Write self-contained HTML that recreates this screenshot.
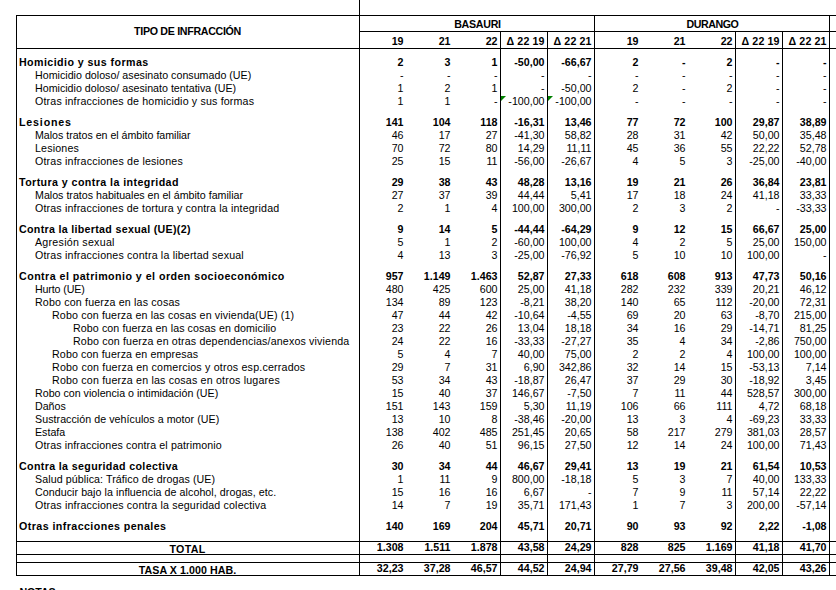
<!DOCTYPE html>
<html><head><meta charset="utf-8"><style>
html,body{margin:0;padding:0;background:#fff;}
body{width:836px;height:590px;position:relative;overflow:hidden;font-family:"Liberation Sans", Arial, sans-serif;font-size:10.67px;color:#000;}
p{position:absolute;margin:0;white-space:pre;line-height:13px;height:13px;}
i{position:absolute;display:block;}
s{position:absolute;display:block;width:0;height:0;}
</style></head><body>
<p style="top:56px;left:19px;font-weight:bold;letter-spacing:0.429px;">Homicidio y sus formas</p>
<p style="top:56px;right:432.5px;font-weight:bold;">2</p>
<p style="top:56px;right:385.5px;font-weight:bold;">3</p>
<p style="top:56px;right:338.5px;font-weight:bold;">1</p>
<p style="top:56px;right:291.5px;font-weight:bold;">-50,00</p>
<p style="top:56px;right:244.5px;font-weight:bold;">-66,67</p>
<p style="top:56px;right:197.5px;font-weight:bold;">2</p>
<p style="top:56px;right:150.5px;font-weight:bold;">-</p>
<p style="top:56px;right:103.5px;font-weight:bold;">2</p>
<p style="top:56px;right:56.5px;font-weight:bold;">-</p>
<p style="top:56px;right:9.5px;font-weight:bold;">-</p>
<p style="top:69px;left:35px;letter-spacing:0.016px;">Homicidio doloso/ asesinato consumado (UE)</p>
<p style="top:69px;right:432.5px;">-</p>
<p style="top:69px;right:385.5px;">-</p>
<p style="top:69px;right:338.5px;">-</p>
<p style="top:69px;right:291.5px;">-</p>
<p style="top:69px;right:244.5px;">-</p>
<p style="top:69px;right:197.5px;">-</p>
<p style="top:69px;right:150.5px;">-</p>
<p style="top:69px;right:103.5px;">-</p>
<p style="top:69px;right:56.5px;">-</p>
<p style="top:69px;right:9.5px;">-</p>
<p style="top:82px;left:35px;letter-spacing:0.009px;">Homicidio doloso/ asesinato tentativa (UE)</p>
<p style="top:82px;right:432.5px;">1</p>
<p style="top:82px;right:385.5px;">2</p>
<p style="top:82px;right:338.5px;">1</p>
<p style="top:82px;right:291.5px;">-</p>
<p style="top:82px;right:244.5px;">-50,00</p>
<p style="top:82px;right:197.5px;">2</p>
<p style="top:82px;right:150.5px;">-</p>
<p style="top:82px;right:103.5px;">2</p>
<p style="top:82px;right:56.5px;">-</p>
<p style="top:82px;right:9.5px;">-</p>
<p style="top:95px;left:35px;letter-spacing:0.163px;">Otras infracciones de homicidio y sus formas</p>
<p style="top:95px;right:432.5px;">1</p>
<p style="top:95px;right:385.5px;">1</p>
<p style="top:95px;right:338.5px;">-</p>
<p style="top:95px;right:291.5px;">-100,00</p>
<p style="top:95px;right:244.5px;">-100,00</p>
<p style="top:95px;right:197.5px;">-</p>
<p style="top:95px;right:150.5px;">-</p>
<p style="top:95px;right:103.5px;">-</p>
<p style="top:95px;right:56.5px;">-</p>
<p style="top:95px;right:9.5px;">-</p>
<p style="top:116px;left:19px;font-weight:bold;letter-spacing:0.83px;">Lesiones</p>
<p style="top:116px;right:432.5px;font-weight:bold;">141</p>
<p style="top:116px;right:385.5px;font-weight:bold;">104</p>
<p style="top:116px;right:338.5px;font-weight:bold;">118</p>
<p style="top:116px;right:291.5px;font-weight:bold;">-16,31</p>
<p style="top:116px;right:244.5px;font-weight:bold;">13,46</p>
<p style="top:116px;right:197.5px;font-weight:bold;">77</p>
<p style="top:116px;right:150.5px;font-weight:bold;">72</p>
<p style="top:116px;right:103.5px;font-weight:bold;">100</p>
<p style="top:116px;right:56.5px;font-weight:bold;">29,87</p>
<p style="top:116px;right:9.5px;font-weight:bold;">38,89</p>
<p style="top:129px;left:35px;letter-spacing:-0.024px;">Malos tratos en el ámbito familiar</p>
<p style="top:129px;right:432.5px;">46</p>
<p style="top:129px;right:385.5px;">17</p>
<p style="top:129px;right:338.5px;">27</p>
<p style="top:129px;right:291.5px;">-41,30</p>
<p style="top:129px;right:244.5px;">58,82</p>
<p style="top:129px;right:197.5px;">28</p>
<p style="top:129px;right:150.5px;">31</p>
<p style="top:129px;right:103.5px;">42</p>
<p style="top:129px;right:56.5px;">50,00</p>
<p style="top:129px;right:9.5px;">35,48</p>
<p style="top:142px;left:35px;letter-spacing:0.172px;">Lesiones</p>
<p style="top:142px;right:432.5px;">70</p>
<p style="top:142px;right:385.5px;">72</p>
<p style="top:142px;right:338.5px;">80</p>
<p style="top:142px;right:291.5px;">14,29</p>
<p style="top:142px;right:244.5px;">11,11</p>
<p style="top:142px;right:197.5px;">45</p>
<p style="top:142px;right:150.5px;">36</p>
<p style="top:142px;right:103.5px;">55</p>
<p style="top:142px;right:56.5px;">22,22</p>
<p style="top:142px;right:9.5px;">52,78</p>
<p style="top:155px;left:35px;letter-spacing:0.172px;">Otras infracciones de lesiones</p>
<p style="top:155px;right:432.5px;">25</p>
<p style="top:155px;right:385.5px;">15</p>
<p style="top:155px;right:338.5px;">11</p>
<p style="top:155px;right:291.5px;">-56,00</p>
<p style="top:155px;right:244.5px;">-26,67</p>
<p style="top:155px;right:197.5px;">4</p>
<p style="top:155px;right:150.5px;">5</p>
<p style="top:155px;right:103.5px;">3</p>
<p style="top:155px;right:56.5px;">-25,00</p>
<p style="top:155px;right:9.5px;">-40,00</p>
<p style="top:176px;left:19px;font-weight:bold;letter-spacing:0.421px;">Tortura y contra la integridad</p>
<p style="top:176px;right:432.5px;font-weight:bold;">29</p>
<p style="top:176px;right:385.5px;font-weight:bold;">38</p>
<p style="top:176px;right:338.5px;font-weight:bold;">43</p>
<p style="top:176px;right:291.5px;font-weight:bold;">48,28</p>
<p style="top:176px;right:244.5px;font-weight:bold;">13,16</p>
<p style="top:176px;right:197.5px;font-weight:bold;">19</p>
<p style="top:176px;right:150.5px;font-weight:bold;">21</p>
<p style="top:176px;right:103.5px;font-weight:bold;">26</p>
<p style="top:176px;right:56.5px;font-weight:bold;">36,84</p>
<p style="top:176px;right:9.5px;font-weight:bold;">23,81</p>
<p style="top:189px;left:35px;letter-spacing:0.003px;">Malos tratos habituales en el ámbito familiar</p>
<p style="top:189px;right:432.5px;">27</p>
<p style="top:189px;right:385.5px;">37</p>
<p style="top:189px;right:338.5px;">39</p>
<p style="top:189px;right:291.5px;">44,44</p>
<p style="top:189px;right:244.5px;">5,41</p>
<p style="top:189px;right:197.5px;">17</p>
<p style="top:189px;right:150.5px;">18</p>
<p style="top:189px;right:103.5px;">24</p>
<p style="top:189px;right:56.5px;">41,18</p>
<p style="top:189px;right:9.5px;">33,33</p>
<p style="top:202px;left:35px;letter-spacing:0.153px;">Otras infracciones de tortura y contra la integridad</p>
<p style="top:202px;right:432.5px;">2</p>
<p style="top:202px;right:385.5px;">1</p>
<p style="top:202px;right:338.5px;">4</p>
<p style="top:202px;right:291.5px;">100,00</p>
<p style="top:202px;right:244.5px;">300,00</p>
<p style="top:202px;right:197.5px;">2</p>
<p style="top:202px;right:150.5px;">3</p>
<p style="top:202px;right:103.5px;">2</p>
<p style="top:202px;right:56.5px;">-</p>
<p style="top:202px;right:9.5px;">-33,33</p>
<p style="top:223px;left:19px;font-weight:bold;letter-spacing:0.307px;">Contra la libertad sexual (UE)(2)</p>
<p style="top:223px;right:432.5px;font-weight:bold;">9</p>
<p style="top:223px;right:385.5px;font-weight:bold;">14</p>
<p style="top:223px;right:338.5px;font-weight:bold;">5</p>
<p style="top:223px;right:291.5px;font-weight:bold;">-44,44</p>
<p style="top:223px;right:244.5px;font-weight:bold;">-64,29</p>
<p style="top:223px;right:197.5px;font-weight:bold;">9</p>
<p style="top:223px;right:150.5px;font-weight:bold;">12</p>
<p style="top:223px;right:103.5px;font-weight:bold;">15</p>
<p style="top:223px;right:56.5px;font-weight:bold;">66,67</p>
<p style="top:223px;right:9.5px;font-weight:bold;">25,00</p>
<p style="top:236px;left:35px;letter-spacing:0.258px;">Agresión sexual</p>
<p style="top:236px;right:432.5px;">5</p>
<p style="top:236px;right:385.5px;">1</p>
<p style="top:236px;right:338.5px;">2</p>
<p style="top:236px;right:291.5px;">-60,00</p>
<p style="top:236px;right:244.5px;">100,00</p>
<p style="top:236px;right:197.5px;">4</p>
<p style="top:236px;right:150.5px;">2</p>
<p style="top:236px;right:103.5px;">5</p>
<p style="top:236px;right:56.5px;">25,00</p>
<p style="top:236px;right:9.5px;">150,00</p>
<p style="top:249px;left:35px;letter-spacing:0.171px;">Otras infracciones contra la libertad sexual</p>
<p style="top:249px;right:432.5px;">4</p>
<p style="top:249px;right:385.5px;">13</p>
<p style="top:249px;right:338.5px;">3</p>
<p style="top:249px;right:291.5px;">-25,00</p>
<p style="top:249px;right:244.5px;">-76,92</p>
<p style="top:249px;right:197.5px;">5</p>
<p style="top:249px;right:150.5px;">10</p>
<p style="top:249px;right:103.5px;">10</p>
<p style="top:249px;right:56.5px;">100,00</p>
<p style="top:249px;right:9.5px;">-</p>
<p style="top:270px;left:19px;font-weight:bold;letter-spacing:0.462px;">Contra el patrimonio y el orden socioeconómico</p>
<p style="top:270px;right:432.5px;font-weight:bold;">957</p>
<p style="top:270px;right:385.5px;font-weight:bold;">1.149</p>
<p style="top:270px;right:338.5px;font-weight:bold;">1.463</p>
<p style="top:270px;right:291.5px;font-weight:bold;">52,87</p>
<p style="top:270px;right:244.5px;font-weight:bold;">27,33</p>
<p style="top:270px;right:197.5px;font-weight:bold;">618</p>
<p style="top:270px;right:150.5px;font-weight:bold;">608</p>
<p style="top:270px;right:103.5px;font-weight:bold;">913</p>
<p style="top:270px;right:56.5px;font-weight:bold;">47,73</p>
<p style="top:270px;right:9.5px;font-weight:bold;">50,16</p>
<p style="top:283px;left:35px;letter-spacing:-0.132px;">Hurto (UE)</p>
<p style="top:283px;right:432.5px;">480</p>
<p style="top:283px;right:385.5px;">425</p>
<p style="top:283px;right:338.5px;">600</p>
<p style="top:283px;right:291.5px;">25,00</p>
<p style="top:283px;right:244.5px;">41,18</p>
<p style="top:283px;right:197.5px;">282</p>
<p style="top:283px;right:150.5px;">232</p>
<p style="top:283px;right:103.5px;">339</p>
<p style="top:283px;right:56.5px;">20,21</p>
<p style="top:283px;right:9.5px;">46,12</p>
<p style="top:296px;left:35px;letter-spacing:0.164px;">Robo con fuerza en las cosas</p>
<p style="top:296px;right:432.5px;">134</p>
<p style="top:296px;right:385.5px;">89</p>
<p style="top:296px;right:338.5px;">123</p>
<p style="top:296px;right:291.5px;">-8,21</p>
<p style="top:296px;right:244.5px;">38,20</p>
<p style="top:296px;right:197.5px;">140</p>
<p style="top:296px;right:150.5px;">65</p>
<p style="top:296px;right:103.5px;">112</p>
<p style="top:296px;right:56.5px;">-20,00</p>
<p style="top:296px;right:9.5px;">72,31</p>
<p style="top:309px;left:52px;letter-spacing:0.146px;">Robo con fuerza en las cosas en vivienda(UE) (1)</p>
<p style="top:309px;right:432.5px;">47</p>
<p style="top:309px;right:385.5px;">44</p>
<p style="top:309px;right:338.5px;">42</p>
<p style="top:309px;right:291.5px;">-10,64</p>
<p style="top:309px;right:244.5px;">-4,55</p>
<p style="top:309px;right:197.5px;">69</p>
<p style="top:309px;right:150.5px;">20</p>
<p style="top:309px;right:103.5px;">63</p>
<p style="top:309px;right:56.5px;">-8,70</p>
<p style="top:309px;right:9.5px;">215,00</p>
<p style="top:322px;left:73px;letter-spacing:0.09px;">Robo con fuerza en las cosas en domicilio</p>
<p style="top:322px;right:432.5px;">23</p>
<p style="top:322px;right:385.5px;">22</p>
<p style="top:322px;right:338.5px;">26</p>
<p style="top:322px;right:291.5px;">13,04</p>
<p style="top:322px;right:244.5px;">18,18</p>
<p style="top:322px;right:197.5px;">34</p>
<p style="top:322px;right:150.5px;">16</p>
<p style="top:322px;right:103.5px;">29</p>
<p style="top:322px;right:56.5px;">-14,71</p>
<p style="top:322px;right:9.5px;">81,25</p>
<p style="top:335px;left:73px;letter-spacing:0.151px;">Robo con fuerza en otras dependencias/anexos vivienda</p>
<p style="top:335px;right:432.5px;">24</p>
<p style="top:335px;right:385.5px;">22</p>
<p style="top:335px;right:338.5px;">16</p>
<p style="top:335px;right:291.5px;">-33,33</p>
<p style="top:335px;right:244.5px;">-27,27</p>
<p style="top:335px;right:197.5px;">35</p>
<p style="top:335px;right:150.5px;">4</p>
<p style="top:335px;right:103.5px;">34</p>
<p style="top:335px;right:56.5px;">-2,86</p>
<p style="top:335px;right:9.5px;">750,00</p>
<p style="top:348px;left:52px;letter-spacing:0.131px;">Robo con fuerza en empresas</p>
<p style="top:348px;right:432.5px;">5</p>
<p style="top:348px;right:385.5px;">4</p>
<p style="top:348px;right:338.5px;">7</p>
<p style="top:348px;right:291.5px;">40,00</p>
<p style="top:348px;right:244.5px;">75,00</p>
<p style="top:348px;right:197.5px;">2</p>
<p style="top:348px;right:150.5px;">2</p>
<p style="top:348px;right:103.5px;">4</p>
<p style="top:348px;right:56.5px;">100,00</p>
<p style="top:348px;right:9.5px;">100,00</p>
<p style="top:361px;left:52px;letter-spacing:0.191px;">Robo con fuerza en comercios y otros esp.cerrados</p>
<p style="top:361px;right:432.5px;">29</p>
<p style="top:361px;right:385.5px;">7</p>
<p style="top:361px;right:338.5px;">31</p>
<p style="top:361px;right:291.5px;">6,90</p>
<p style="top:361px;right:244.5px;">342,86</p>
<p style="top:361px;right:197.5px;">32</p>
<p style="top:361px;right:150.5px;">14</p>
<p style="top:361px;right:103.5px;">15</p>
<p style="top:361px;right:56.5px;">-53,13</p>
<p style="top:361px;right:9.5px;">7,14</p>
<p style="top:374px;left:52px;letter-spacing:0.181px;">Robo con fuerza en las cosas en otros lugares</p>
<p style="top:374px;right:432.5px;">53</p>
<p style="top:374px;right:385.5px;">34</p>
<p style="top:374px;right:338.5px;">43</p>
<p style="top:374px;right:291.5px;">-18,87</p>
<p style="top:374px;right:244.5px;">26,47</p>
<p style="top:374px;right:197.5px;">37</p>
<p style="top:374px;right:150.5px;">29</p>
<p style="top:374px;right:103.5px;">30</p>
<p style="top:374px;right:56.5px;">-18,92</p>
<p style="top:374px;right:9.5px;">3,45</p>
<p style="top:387px;left:35px;letter-spacing:0.005px;">Robo con violencia o intimidación (UE)</p>
<p style="top:387px;right:432.5px;">15</p>
<p style="top:387px;right:385.5px;">40</p>
<p style="top:387px;right:338.5px;">37</p>
<p style="top:387px;right:291.5px;">146,67</p>
<p style="top:387px;right:244.5px;">-7,50</p>
<p style="top:387px;right:197.5px;">7</p>
<p style="top:387px;right:150.5px;">11</p>
<p style="top:387px;right:103.5px;">44</p>
<p style="top:387px;right:56.5px;">528,57</p>
<p style="top:387px;right:9.5px;">300,00</p>
<p style="top:400px;left:35px;letter-spacing:0.0px;">Daños</p>
<p style="top:400px;right:432.5px;">151</p>
<p style="top:400px;right:385.5px;">143</p>
<p style="top:400px;right:338.5px;">159</p>
<p style="top:400px;right:291.5px;">5,30</p>
<p style="top:400px;right:244.5px;">11,19</p>
<p style="top:400px;right:197.5px;">106</p>
<p style="top:400px;right:150.5px;">66</p>
<p style="top:400px;right:103.5px;">111</p>
<p style="top:400px;right:56.5px;">4,72</p>
<p style="top:400px;right:9.5px;">68,18</p>
<p style="top:413px;left:35px;letter-spacing:0.051px;">Sustracción de vehículos a motor (UE)</p>
<p style="top:413px;right:432.5px;">13</p>
<p style="top:413px;right:385.5px;">10</p>
<p style="top:413px;right:338.5px;">8</p>
<p style="top:413px;right:291.5px;">-38,46</p>
<p style="top:413px;right:244.5px;">-20,00</p>
<p style="top:413px;right:197.5px;">13</p>
<p style="top:413px;right:150.5px;">3</p>
<p style="top:413px;right:103.5px;">4</p>
<p style="top:413px;right:56.5px;">-69,23</p>
<p style="top:413px;right:9.5px;">33,33</p>
<p style="top:426px;left:35px;letter-spacing:0.0px;">Estafa</p>
<p style="top:426px;right:432.5px;">138</p>
<p style="top:426px;right:385.5px;">402</p>
<p style="top:426px;right:338.5px;">485</p>
<p style="top:426px;right:291.5px;">251,45</p>
<p style="top:426px;right:244.5px;">20,65</p>
<p style="top:426px;right:197.5px;">58</p>
<p style="top:426px;right:150.5px;">217</p>
<p style="top:426px;right:103.5px;">279</p>
<p style="top:426px;right:56.5px;">381,03</p>
<p style="top:426px;right:9.5px;">28,57</p>
<p style="top:439px;left:35px;letter-spacing:0.111px;">Otras infracciones contra el patrimonio</p>
<p style="top:439px;right:432.5px;">26</p>
<p style="top:439px;right:385.5px;">40</p>
<p style="top:439px;right:338.5px;">51</p>
<p style="top:439px;right:291.5px;">96,15</p>
<p style="top:439px;right:244.5px;">27,50</p>
<p style="top:439px;right:197.5px;">12</p>
<p style="top:439px;right:150.5px;">14</p>
<p style="top:439px;right:103.5px;">24</p>
<p style="top:439px;right:56.5px;">100,00</p>
<p style="top:439px;right:9.5px;">71,43</p>
<p style="top:460px;left:19px;font-weight:bold;letter-spacing:0.357px;">Contra la seguridad colectiva</p>
<p style="top:460px;right:432.5px;font-weight:bold;">30</p>
<p style="top:460px;right:385.5px;font-weight:bold;">34</p>
<p style="top:460px;right:338.5px;font-weight:bold;">44</p>
<p style="top:460px;right:291.5px;font-weight:bold;">46,67</p>
<p style="top:460px;right:244.5px;font-weight:bold;">29,41</p>
<p style="top:460px;right:197.5px;font-weight:bold;">13</p>
<p style="top:460px;right:150.5px;font-weight:bold;">19</p>
<p style="top:460px;right:103.5px;font-weight:bold;">21</p>
<p style="top:460px;right:56.5px;font-weight:bold;">61,54</p>
<p style="top:460px;right:9.5px;font-weight:bold;">10,53</p>
<p style="top:473px;left:35px;letter-spacing:0.083px;">Salud pública: Tráfico de drogas (UE)</p>
<p style="top:473px;right:432.5px;">1</p>
<p style="top:473px;right:385.5px;">11</p>
<p style="top:473px;right:338.5px;">9</p>
<p style="top:473px;right:291.5px;">800,00</p>
<p style="top:473px;right:244.5px;">-18,18</p>
<p style="top:473px;right:197.5px;">5</p>
<p style="top:473px;right:150.5px;">3</p>
<p style="top:473px;right:103.5px;">7</p>
<p style="top:473px;right:56.5px;">40,00</p>
<p style="top:473px;right:9.5px;">133,33</p>
<p style="top:486px;left:35px;letter-spacing:0.059px;">Conducir bajo la influencia de alcohol, drogas, etc.</p>
<p style="top:486px;right:432.5px;">15</p>
<p style="top:486px;right:385.5px;">16</p>
<p style="top:486px;right:338.5px;">16</p>
<p style="top:486px;right:291.5px;">6,67</p>
<p style="top:486px;right:244.5px;">-</p>
<p style="top:486px;right:197.5px;">7</p>
<p style="top:486px;right:150.5px;">9</p>
<p style="top:486px;right:103.5px;">11</p>
<p style="top:486px;right:56.5px;">57,14</p>
<p style="top:486px;right:9.5px;">22,22</p>
<p style="top:499px;left:35px;letter-spacing:0.157px;">Otras infracciones contra la seguridad colectiva</p>
<p style="top:499px;right:432.5px;">14</p>
<p style="top:499px;right:385.5px;">7</p>
<p style="top:499px;right:338.5px;">19</p>
<p style="top:499px;right:291.5px;">35,71</p>
<p style="top:499px;right:244.5px;">171,43</p>
<p style="top:499px;right:197.5px;">1</p>
<p style="top:499px;right:150.5px;">7</p>
<p style="top:499px;right:103.5px;">3</p>
<p style="top:499px;right:56.5px;">200,00</p>
<p style="top:499px;right:9.5px;">-57,14</p>
<p style="top:520px;left:19px;font-weight:bold;letter-spacing:0.432px;">Otras infracciones penales</p>
<p style="top:520px;right:432.5px;font-weight:bold;">140</p>
<p style="top:520px;right:385.5px;font-weight:bold;">169</p>
<p style="top:520px;right:338.5px;font-weight:bold;">204</p>
<p style="top:520px;right:291.5px;font-weight:bold;">45,71</p>
<p style="top:520px;right:244.5px;font-weight:bold;">20,71</p>
<p style="top:520px;right:197.5px;font-weight:bold;">90</p>
<p style="top:520px;right:150.5px;font-weight:bold;">93</p>
<p style="top:520px;right:103.5px;font-weight:bold;">92</p>
<p style="top:520px;right:56.5px;font-weight:bold;">2,22</p>
<p style="top:520px;right:9.5px;font-weight:bold;">-1,08</p>
<p style="top:25px;left:16px;width:343px;text-align:center;font-weight:bold;letter-spacing:-0.31px;">TIPO DE INFRACCIÓN</p>
<p style="top:18px;left:360px;width:235px;text-align:center;font-weight:bold;letter-spacing:-0.27px;">BASAURI</p>
<p style="top:18px;left:595px;width:235px;text-align:center;font-weight:bold;letter-spacing:-0.47px;">DURANGO</p>
<p style="top:35px;right:432.5px;font-weight:bold;">19</p>
<p style="top:35px;right:385.5px;font-weight:bold;">21</p>
<p style="top:35px;right:338.5px;font-weight:bold;">22</p>
<p style="top:35px;right:291.5px;font-weight:bold;letter-spacing:0.12px;margin-right:-0.12px;">&Delta; 22 19</p>
<p style="top:35px;right:244.5px;font-weight:bold;letter-spacing:0.12px;margin-right:-0.12px;">&Delta; 22 21</p>
<p style="top:35px;right:197.5px;font-weight:bold;">19</p>
<p style="top:35px;right:150.5px;font-weight:bold;">21</p>
<p style="top:35px;right:103.5px;font-weight:bold;">22</p>
<p style="top:35px;right:56.5px;font-weight:bold;letter-spacing:0.12px;margin-right:-0.12px;">&Delta; 22 19</p>
<p style="top:35px;right:9.5px;font-weight:bold;letter-spacing:0.12px;margin-right:-0.12px;">&Delta; 22 21</p>
<p style="top:543px;left:16px;width:343px;text-align:center;font-weight:bold;letter-spacing:0.3px;">TOTAL</p>
<p style="top:541px;right:432.5px;font-weight:bold;">1.308</p>
<p style="top:541px;right:385.5px;font-weight:bold;">1.511</p>
<p style="top:541px;right:338.5px;font-weight:bold;">1.878</p>
<p style="top:541px;right:291.5px;font-weight:bold;">43,58</p>
<p style="top:541px;right:244.5px;font-weight:bold;">24,29</p>
<p style="top:541px;right:197.5px;font-weight:bold;">828</p>
<p style="top:541px;right:150.5px;font-weight:bold;">825</p>
<p style="top:541px;right:103.5px;font-weight:bold;">1.169</p>
<p style="top:541px;right:56.5px;font-weight:bold;">41,18</p>
<p style="top:541px;right:9.5px;font-weight:bold;">41,70</p>
<p style="top:564px;left:16px;width:343px;text-align:center;font-weight:bold;letter-spacing:0.05px;">TASA X 1.000 HAB.</p>
<p style="top:562px;right:432.5px;font-weight:bold;">32,23</p>
<p style="top:562px;right:385.5px;font-weight:bold;">37,28</p>
<p style="top:562px;right:338.5px;font-weight:bold;">46,57</p>
<p style="top:562px;right:291.5px;font-weight:bold;">44,52</p>
<p style="top:562px;right:244.5px;font-weight:bold;">24,94</p>
<p style="top:562px;right:197.5px;font-weight:bold;">27,79</p>
<p style="top:562px;right:150.5px;font-weight:bold;">27,56</p>
<p style="top:562px;right:103.5px;font-weight:bold;">39,48</p>
<p style="top:562px;right:56.5px;font-weight:bold;">42,05</p>
<p style="top:562px;right:9.5px;font-weight:bold;">43,26</p>
<p style="top:586px;left:19.5px;font-weight:bold;letter-spacing:-0.1px;">NOTAS:</p>
<i style="left:16px;top:15px;width:820px;height:1px;background:#000"></i>
<i style="left:359px;top:31px;width:477px;height:1px;background:#000"></i>
<i style="left:16px;top:48px;width:820px;height:1px;background:#000"></i>
<i style="left:16px;top:541px;width:820px;height:1px;background:#000"></i>
<i style="left:16px;top:554px;width:820px;height:1px;background:#000"></i>
<i style="left:16px;top:562px;width:820px;height:1px;background:#000"></i>
<i style="left:16px;top:575px;width:820px;height:1px;background:#000"></i>
<i style="left:16px;top:15px;width:1px;height:561px;background:#000"></i>
<i style="left:359px;top:0px;width:1px;height:576px;background:#000"></i>
<i style="left:500px;top:31px;width:1px;height:545px;background:#000"></i>
<i style="left:547px;top:31px;width:1px;height:545px;background:#000"></i>
<i style="left:735px;top:31px;width:1px;height:545px;background:#000"></i>
<i style="left:782px;top:31px;width:1px;height:545px;background:#000"></i>
<i style="left:594px;top:15px;width:1px;height:561px;background:#000"></i>
<i style="left:829px;top:15px;width:1px;height:561px;background:#000"></i>
<s style="left:501px;top:96px;border-top:5px solid #008000;border-right:5px solid transparent"></s>
<s style="left:548px;top:96px;border-top:5px solid #008000;border-right:5px solid transparent"></s>
</body></html>
